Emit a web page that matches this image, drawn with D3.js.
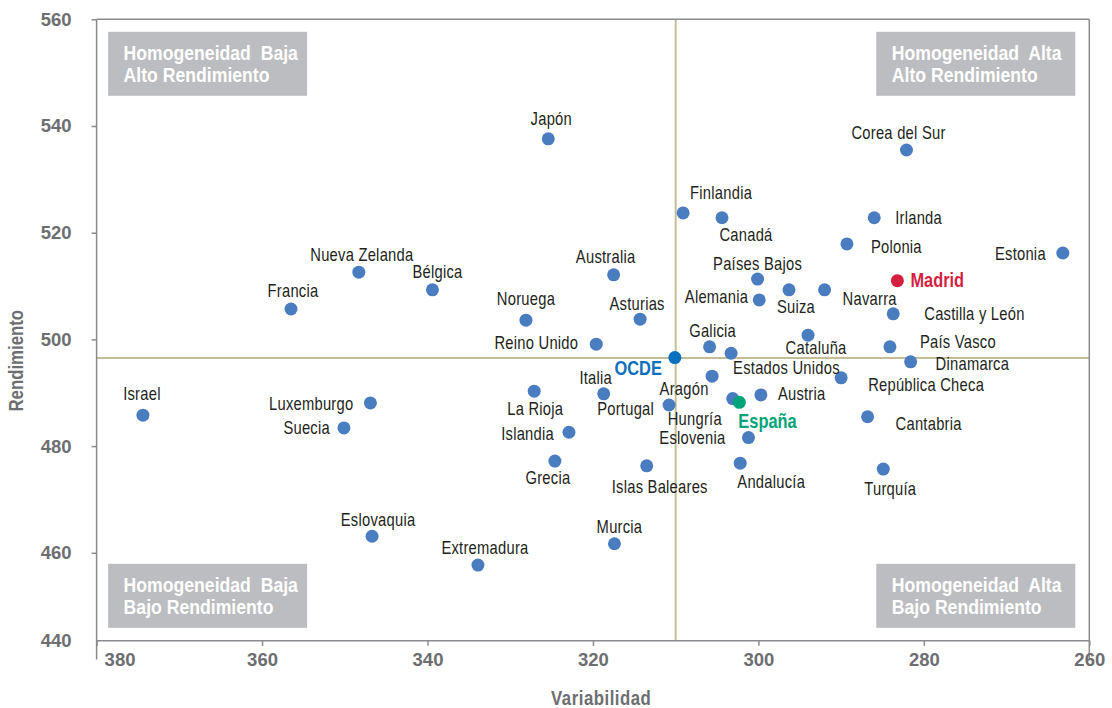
<!DOCTYPE html>
<html>
<head>
<meta charset="utf-8">
<script src="https://cdn.jsdelivr.net/npm/d3@7"></script>
<style>
  body { margin: 0; background: #fff; }
  svg { display: block; }
  text { font-family: "Liberation Sans", Arial, sans-serif; }
  .lbl { font-size: 18px; fill: #231f20; }
  .tick text, .axtitle { font-weight: bold; fill: #6d6e71; }
  .boxtxt { font-weight: bold; font-size: 21px; fill: #fff; }
</style>
</head>
<body>
<svg id="svg1" width="1112" height="708"></svg>
<script>
// datos: variabilidad (eje x, invertido) y rendimiento (eje y)
var nombres = ["Japón", "Corea del Sur", "Finlandia", "Canadá", "Irlanda", "Polonia", "Estonia", "Madrid",
               "Nueva Zelanda", "Bélgica", "Francia", "Australia", "Noruega", "Asturias", "Reino Unido",
               "Países Bajos", "Alemania", "Suiza", "Navarra", "Castilla y León", "Cataluña", "País Vasco",
               "Galicia", "Estados Unidos", "Dinamarca", "República Checa", "Aragón", "Austria", "Hungría",
               "España", "Cantabria", "Eslovenia", "OCDE", "Italia", "Portugal", "Israel", "Luxemburgo",
               "Suecia", "La Rioja", "Islandia", "Grecia", "Islas Baleares", "Andalucía", "Turquía",
               "Eslovaquia", "Murcia", "Extremadura"];
var variabilidad = [325.4, 282.1, 309.1, 304.4, 286.0, 289.3, 263.2, 283.2,
                    348.3, 339.4, 356.5, 317.5, 328.1, 314.3, 319.6,
                    300.1, 299.9, 296.3, 292.0, 283.7, 294.0, 284.1,
                    305.9, 303.3, 281.6, 290.0, 305.6, 299.7, 303.1,
                    302.3, 286.8, 301.2, 310.1, 318.7, 310.8, 374.4, 346.9,
                    350.1, 327.1, 322.9, 324.6, 313.5, 302.2, 284.9,
                    346.7, 317.4, 333.9];
var rendimiento = [537.6, 535.5, 523.7, 522.8, 522.8, 517.9, 516.2, 511.0,
                   512.6, 509.3, 505.7, 512.1, 503.6, 503.8, 499.1,
                   511.3, 507.4, 509.3, 509.3, 504.8, 500.8, 498.6,
                   498.6, 497.4, 495.8, 492.8, 493.1, 489.6, 488.9,
                   488.2, 485.5, 481.6, 496.6, 489.8, 487.7, 485.8, 488.1,
                   483.4, 490.3, 482.6, 477.2, 476.3, 476.8, 475.7,
                   463.1, 461.7, 457.7];
var destacados = { "OCDE": "ocde", "España": "espana", "Madrid": "madrid" };

var xTicks = [380, 360, 340, 320, 300, 280, 260];
var yTicks = [460, 480, 500, 520, 540, 560];
var yMinLabel = 440;
var mediaOCDE = { x: 310, y: 496.5 };
var cuadrantes = [
  { l1: "Homogeneidad  Baja", l2: "Alto Rendimiento", pos: "tl" },
  { l1: "Homogeneidad  Alta", l2: "Alto Rendimiento", pos: "tr" },
  { l1: "Homogeneidad  Baja", l2: "Bajo Rendimiento", pos: "bl" },
  { l1: "Homogeneidad  Alta", l2: "Bajo Rendimiento", pos: "br" }
];

// colocación de etiquetas respecto al punto: [dx, dy, anchor]
var etiq = {
  "Japón": [3, -20, "middle"], "Corea del Sur": [-8, -17, "middle"], "Finlandia": [38, -20, "middle"],
  "Canadá": [24, 17, "middle"], "Irlanda": [21, 0, "start"], "Polonia": [24, 3, "start"],
  "Estonia": [-17, 1, "end"], "Madrid": [13, -1, "start"], "Nueva Zelanda": [3, -17, "middle"],
  "Bélgica": [5, -18, "middle"], "Francia": [2, -18, "middle"], "Australia": [-8, -18, "middle"],
  "Noruega": [0, -21, "middle"], "Asturias": [-3, -15, "middle"], "Reino Unido": [-18, -2, "end"],
  "Países Bajos": [0, -15, "middle"], "Alemania": [-11, -3, "end"], "Suiza": [7, 17, "middle"],
  "Navarra": [18, 9, "start"], "Castilla y León": [31, 0, "start"], "Cataluña": [8, 13, "middle"],
  "País Vasco": [30, -5, "start"], "Galicia": [3, -16, "middle"], "Estados Unidos": [2, 14, "start"],
  "Dinamarca": [25, 2, "start"], "República Checa": [27, 7, "start"], "Aragón": [-28, 12, "middle"],
  "Austria": [17, -1, "start"], "Hungría": [-38, 20, "middle"], "España": [-1, 19, "start"],
  "Cantabria": [28, 7, "start"], "Eslovenia": [-23, 0, "end"], "OCDE": [-13, 10, "end"],
  "Italia": [-8, -16, "middle"], "Portugal": [-15, 4, "end"], "Israel": [-1, -21, "middle"],
  "Luxemburgo": [-17, 1, "end"], "Suecia": [-14, 0, "end"], "La Rioja": [1, 18, "middle"],
  "Islandia": [-15, 1, "end"], "Grecia": [-7, 17, "middle"], "Islas Baleares": [13, 21, "middle"],
  "Andalucía": [31, 19, "middle"], "Turquía": [7, 20, "middle"], "Eslovaquia": [6, -17, "middle"],
  "Murcia": [5, -17, "middle"], "Extremadura": [7, -17, "middle"]
};

var colores = { normal: "#4a7dc0", ocde: "#0a6fbd", espana: "#00a47a", madrid: "#d41f3f" };
var coloresTxt = { normal: "#231f20", ocde: "#0a6fbd", espana: "#00a47a", madrid: "#d41f3f" };

var puntos = nombres.map(function(n, i) {
  return { nombre: n, x: variabilidad[i], y: rendimiento[i], tipo: destacados[n] || "normal" };
});

var margin = { left: 96.6, top: 19.3, right: 22.7, bottom: 48.5 };
var W = 1112, H = 708;
var w = W - margin.left - margin.right;
var h = H - margin.top - margin.bottom;

var x = d3.scaleLinear().domain([380, 260]).range([0, w]);
var y = d3.scaleLinear().domain([440, 560]).range([h, 0]);
var ejeXEn = 443.5; // el eje horizontal corta aquí

var svg = d3.select('svg').append('g')
            .attr('transform', 'translate(' + margin.left + ',' + margin.top + ')');

var gris = "#8a8b8e";
var estrecho = 0.84; // fuente condensada

// cajas de cuadrantes
var bw = 199, bh = 64;
cuadrantes.forEach(function(c) {
  var bx = c.pos[1] == "l" ? 11.5 : w - 14 - bw;
  var by = c.pos[0] == "t" ? 12.5 : y(ejeXEn) - 13 - bh;
  var g = svg.append("g").attr("transform", "translate(" + bx + "," + by + ")");
  g.append("rect").attr("width", bw).attr("height", bh).attr("fill", "#bcbdc0");
  var t = g.append("g").attr("transform", "translate(15.5,0) scale(" + estrecho + ",1)");
  t.append("text").attr("class", "boxtxt").attr("y", 28).style("white-space", "pre").text(c.l1);
  t.append("text").attr("class", "boxtxt").attr("y", 50).text(c.l2);
});

// líneas de la media OCDE
svg.append("line").attr("x1", x(mediaOCDE.x)).attr("x2", x(mediaOCDE.x))
   .attr("y1", 0).attr("y2", y(ejeXEn)).attr("stroke", "#c4bd97").attr("stroke-width", 2);
svg.append("line").attr("x1", 0).attr("x2", w)
   .attr("y1", y(mediaOCDE.y)).attr("y2", y(mediaOCDE.y)).attr("stroke", "#c4bd97").attr("stroke-width", 2);

// marco superior y derecho
svg.append("line").attr("x1", 0).attr("x2", w).attr("y1", 0).attr("y2", 0).attr("stroke", gris).attr("stroke-width", 1.5);
svg.append("line").attr("x1", w).attr("x2", w).attr("y1", 0).attr("y2", h).attr("stroke", gris).attr("stroke-width", 1.5);

// ejes
var yAxis = svg.append("g").call(d3.axisLeft(y).tickValues(yTicks).tickSize(5).tickPadding(20));
yAxis.select(".domain").remove();
yAxis.append("line").attr("x1", 0).attr("x2", 0).attr("y1", 0).attr("y2", h).attr("stroke", gris).attr("stroke-width", 1.5);
yAxis.selectAll(".tick line").attr("stroke", gris).attr("stroke-width", 1.5);
yAxis.selectAll(".tick text").style("font-size", "18.5px");
yAxis.append("text").attr("x", -25).attr("y", y(ejeXEn)).attr("dy", "0.35em")
     .attr("text-anchor", "end").attr("class", "axtitle").style("font-size", "18.5px")
     .text(yMinLabel);

var xAxis = svg.append("g").attr("transform", "translate(0," + y(ejeXEn) + ")")
               .call(d3.axisBottom(x).tickValues(xTicks).tickFormat(d3.format("d")).tickSize(5).tickPadding(7));
xAxis.select(".domain").remove();
xAxis.append("line").attr("x1", 0).attr("x2", w).attr("stroke", gris).attr("stroke-width", 1.5);
xAxis.selectAll(".tick line").attr("stroke", gris).attr("stroke-width", 1.5);
xAxis.selectAll(".tick text").style("font-size", "18.5px");
xAxis.selectAll(".tick").filter(function(d) { return d == 380; }).select("text")
     .attr("text-anchor", "start").attr("x", 7.5);

svg.append("text").attr("class", "axtitle")
   .attr("transform", "translate(" + x(319) + "," + (h + 45) + ") scale(" + estrecho + ",1)")
   .attr("text-anchor", "middle").style("font-size", "20px").style("letter-spacing", "0.6px").text("Variabilidad");
svg.append("text").attr("class", "axtitle")
   .attr("transform", "translate(" + (-74) + "," + y(496) + ") rotate(-90) scale(" + estrecho + ",1)")
   .attr("text-anchor", "middle").style("font-size", "20px").text("Rendimiento");

// puntos
svg.selectAll("circle").data(puntos).enter().append("circle")
   .attr("cx", function(d) { return x(d.x); })
   .attr("cy", function(d) { return y(d.y); })
   .attr("r", 6.5)
   .attr("fill", function(d) { return colores[d.tipo]; });

// etiquetas
svg.selectAll("g.etq").data(puntos).enter().append("g")
   .attr("class", "etq")
   .attr("transform", function(d) {
     return "translate(" + (x(d.x) + etiq[d.nombre][0]) + "," + (y(d.y) + etiq[d.nombre][1]) + ") scale(0.82,1)";
   })
   .append("text")
   .attr("class", "lbl")
   .attr("dy", "0.35em")
   .attr("text-anchor", function(d) { return etiq[d.nombre][2]; })
   .style("fill", function(d) { return coloresTxt[d.tipo]; })
   .style("font-weight", function(d) { return d.tipo == "normal" ? "normal" : "bold"; })
   .style("font-size", function(d) { return d.tipo == "normal" ? "18px" : "20px"; })
   .style("letter-spacing", function(d) { return d.tipo == "normal" ? "0.3px" : "0px"; })
   .text(function(d) { return d.nombre; });
</script>
</body>
</html>
